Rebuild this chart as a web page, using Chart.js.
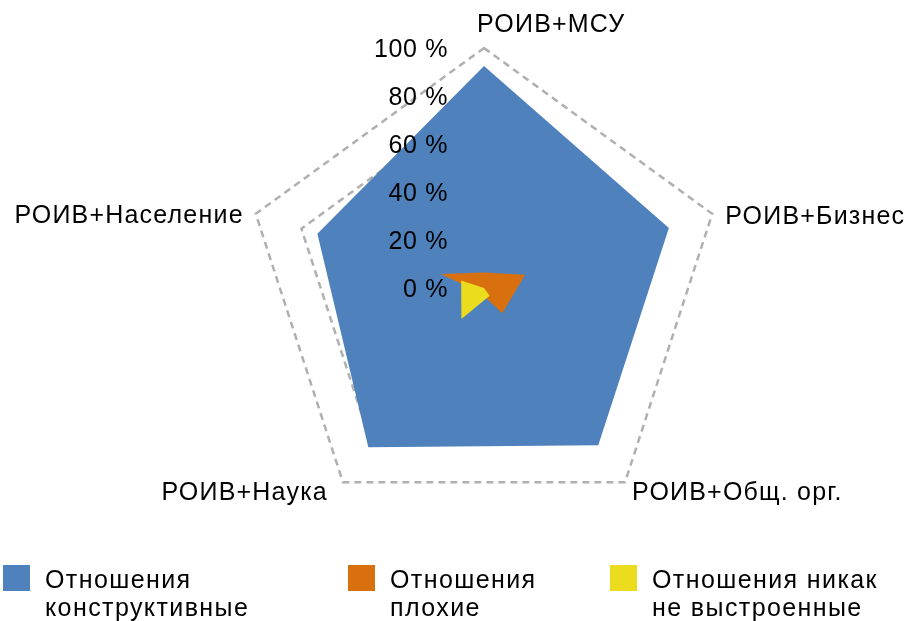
<!DOCTYPE html>
<html>
<head>
<meta charset="utf-8">
<script src="https://cdn.jsdelivr.net/npm/chart.js@4.4.0/dist/chart.umd.min.js"></script>
<style>
  body { margin: 0; background: #fff; }
  #wrap { position: relative; width: 909px; height: 621px; }
  #legend { position: absolute; left: 0; top: 565px; width: 909px; }
  .item { position: absolute; top: 0; font: 25px "Liberation Sans", Arial, sans-serif; line-height: 28px; letter-spacing: 1.4px; color: #000; }
  .item .box { position: absolute; left: 0; top: 0; width: 27px; height: 26px; }
  .item .txt { position: absolute; left: 42px; top: 0; white-space: nowrap; }
</style>
</head>
<body>
<div id="wrap">
  <canvas id="radar" width="909" height="621"></canvas>
  <div id="legend"></div>
</div>
<script>
// axes of the radar
const categories = ['РОИВ+МСУ', 'РОИВ+Бизнес', 'РОИВ+Общ. орг.', 'РОИВ+Наука', 'РОИВ+Население'];
// values in %
const constructive = [92.5, 81, 81, 82, 73];
const bad = [6.5, 18, 13, 2.5, 19];
const notBuilt = [0, 0, 4, 16, 10];
const seriesNames = [['Отношения', 'конструктивные'], ['Отношения', 'плохие'], ['Отношения никак', 'не выстроенные']];
const seriesColors = ['#4f81bd', '#d9700f', '#ebdc1e'];
const tickMin = 0;
const tickMax = 100;
const tickStep = 20;

const FONT = '25px "Liberation Sans", Arial, sans-serif';

// draws the % ticks left of the axis and the category names like the original
const radarText = {
  id: 'radarText',
  afterDraw(chart) {
    const r = chart.scales.r;
    const ctx = chart.ctx;
    ctx.save();
    ctx.font = FONT;
    ctx.fillStyle = '#000';
    ctx.textBaseline = 'alphabetic';

    ctx.textAlign = 'right';
    ctx.letterSpacing = '0.6px';
    r.ticks.forEach(t => {
      const y = r.yCenter - r.getDistanceFromCenterForValue(t.value);
      ctx.fillText(t.value + ' %', r.xCenter - 36, y + 9);
    });

    // offsets from each outer vertex: [dx, dy, align]
    ctx.letterSpacing = '1.2px';
    const place = [[-7, -16, 'left'], [13, 10, 'left'], [7, 18, 'left'], [-15, 18, 'right'], [-12, 9, 'right']];
    categories.forEach((name, i) => {
      const p = r.getPointPosition(i, r.drawingArea);
      ctx.textAlign = place[i][2];
      ctx.fillText(name, p.x + place[i][0], p.y + place[i][1]);
    });
    ctx.restore();
  }
};

const series = [constructive, bad, notBuilt];

new Chart(document.getElementById('radar'), {
  type: 'radar',
  data: {
    labels: categories,
    datasets: series.map((vals, i) => ({
      label: seriesNames[i].join(' '),
      data: vals,
      backgroundColor: seriesColors[i],
      borderWidth: 0,
      pointRadius: 0,
      fill: true,
      order: series.length - i
    }))
  },
  options: {
    responsive: false,
    animation: false,
    layout: { padding: { left: 244, right: 185, top: 48, bottom: 93 } },
    plugins: { legend: { display: false }, tooltip: { enabled: false } },
    scales: {
      r: {
        min: tickMin,
        max: tickMax,
        ticks: { stepSize: tickStep, display: false },
        angleLines: { display: false },
        pointLabels: { display: false },
        grid: { color: '#b0b0b0', lineWidth: 2.5 },
        border: { dash: [7, 5] }
      }
    }
  },
  plugins: [radarText]
});

// legend under the chart
const legendX = [3, 348, 610];
const legend = document.getElementById('legend');
seriesNames.forEach((lines, i) => {
  const item = document.createElement('div');
  item.className = 'item';
  item.style.left = legendX[i] + 'px';
  item.innerHTML = '<div class="box" style="background:' + seriesColors[i] + '"></div>' +
    '<div class="txt">' + lines.join('<br>') + '</div>';
  legend.appendChild(item);
});
</script>
</body>
</html>
